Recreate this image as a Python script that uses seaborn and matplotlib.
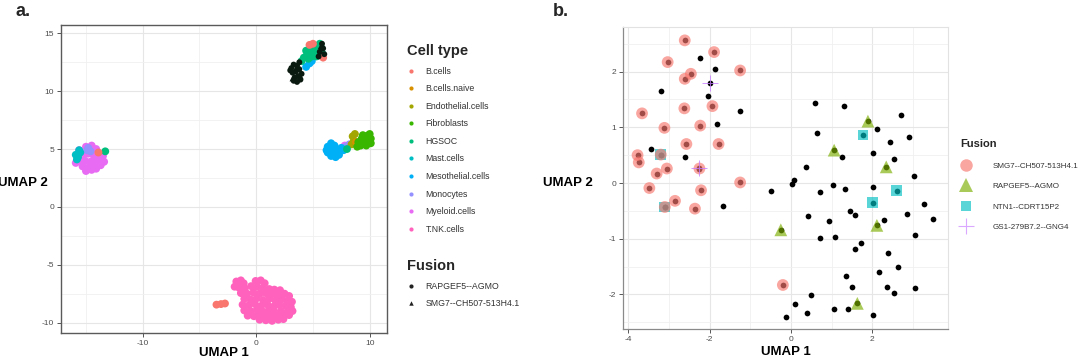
import matplotlib
matplotlib.use("Agg")
import matplotlib.pyplot as plt
import seaborn as sns
import pandas as pd
from matplotlib.lines import Line2D

sns.set_theme(style="white")
plt.rcParams['font.family'] = ['Liberation Sans', 'DejaVu Sans']
plt.rcParams['axes.unicode_minus'] = False

# ---------------- Panel a data ----------------
cell_types = ["B.cells", "B.cells.naive", "Endothelial.cells", "Fibroblasts", "HGSOC",
              "Mast.cells", "Mesothelial.cells", "Monocytes", "Myeloid.cells", "T.NK.cells"]
cell_colors = ["#F8766D", "#D89000", "#A3A500", "#39B600", "#00BF7D",
               "#00BFC4", "#00B0F6", "#9590FF", "#E76BF3", "#FF62BC"]

bcells_x = [-3.5, -3.1, -2.75, 5.0, 4.7, 5.9, -13.9]
bcells_y = [-8.45, -8.4, -8.35, 14.1, 14.0, 12.9, 4.7]
bnaive_x = [8.8]
bnaive_y = [5.6]
endo_x = [8.5, 8.6, 8.4, 8.7]
endo_y = [6.1, 5.7, 5.4, 6.3]
fibro_x = [9.0, 9.3, 9.6, 9.9, 9.5, 9.8, 10.1, 9.2, 9.7, 10.1, 9.9, 8.9, 9.4, 10.0]
fibro_y = [5.6, 5.9, 6.1, 6.2, 5.6, 5.7, 5.9, 5.3, 5.3, 5.5, 6.0, 5.2, 6.2, 6.3]
hgsoc_x = [4.2, 4.5, 4.8, 5.1, 5.4, 5.7, 4.6, 4.9, 5.2, 5.5, 5.8, 5.3, 4.0, 5.0, 5.6, 4.4, -13.3, 8.0]
hgsoc_y = [12.9, 13.2, 13.5, 13.7, 13.9, 13.8, 12.8, 13.0, 13.3, 13.5, 13.3, 13.0, 12.6, 14.0, 14.1, 13.5, 4.8, 5.0]
mast_x = [-15.9, -15.7, -15.5, -15.8, -15.6]
mast_y = [4.5, 4.3, 4.7, 4.1, 4.9]
meso_x = [6.3, 6.6, 6.9, 6.3, 6.6, 6.9, 7.2, 7.5, 6.6, 7.0, 7.3, 6.2, 7.7, 4.7, 4.4, 4.9]
meso_y = [5.2, 5.5, 5.3, 4.7, 4.9, 4.6, 4.9, 5.1, 4.4, 4.3, 4.5, 4.9, 4.9, 12.4, 12.1, 12.6]
mono_x = [-14.9, -14.6, -14.8, 7.9, 8.2]
mono_y = [4.9, 4.8, 5.1, 5.2, 5.4]
myelo_x = [-15.6, -15.0, -14.5, -14.1, -15.3, -14.8, -14.3, -13.8, -15.6, -15.1, -14.6, -14.0,
           -13.4, -15.3, -14.8, -14.3, -13.7, -15.0, -14.5, -13.5, -14.1, -15.9, 7.8]
myelo_y = [4.9, 5.2, 5.3, 5.0, 4.5, 4.6, 4.4, 4.5, 4.0, 4.0, 3.9, 4.0,
           3.9, 3.5, 3.4, 3.6, 3.6, 3.1, 3.2, 4.4, 3.3, 3.8, 5.3]
tnk_x = [-1.75, -1.35, -1.1, -0.05, 0.4, 0.75,
         -1.9, -1.5, -1.0, -0.45, 0.1, 0.6, 1.15, 1.6, 2.1,
         -1.35, -0.8, -0.25, 0.3, 0.85, 1.4, 1.95, 2.5, 2.9,
         -1.05, -0.5, 0.05, 0.6, 1.15, 1.7, 2.25, 2.75, 3.15,
         -1.2, -0.65, -0.1, 0.45, 1.0, 1.55, 2.05, 2.6, 3.05,
         -1.05, -0.5, 0.05, 0.6, 1.1, 1.65, 2.2, 2.75, 3.2,
         -0.75, -0.2, 0.35, 0.9, 1.45, 2.0, 2.5, 2.9,
         0.3, 0.85, 1.4, 1.95, 2.4]
tnk_y = [-6.45, -6.35, -6.6, -6.4, -6.35, -6.6,
         -6.9, -7.0, -7.05, -6.85, -6.9, -7.0, -7.1, -7.15, -7.2,
         -7.45, -7.5, -7.4, -7.5, -7.45, -7.55, -7.6, -7.5, -7.7,
         -7.95, -8.0, -7.9, -8.05, -7.95, -8.1, -8.0, -8.1, -8.2,
         -8.45, -8.5, -8.4, -8.55, -8.45, -8.6, -8.5, -8.55, -8.65,
         -8.95, -9.0, -8.9, -9.05, -8.95, -9.1, -9.0, -9.1, -9.0,
         -9.4, -9.45, -9.35, -9.5, -9.4, -9.5, -9.4, -9.35,
         -9.75, -9.8, -9.85, -9.75, -9.7]

fusion_a_labels = ["RAPGEF5--AGMO", "SMG7--CH507-513H4.1"]
rapA_x = [3.1, 3.3, 3.6, 3.2, 3.5, 3.8, 3.4, 3.7, 3.3, 3.6, 3.9, 3.0, 4.0, 3.8,
          5.6, 5.9, 5.8, 6.0, 5.5]
rapA_y = [12.0, 12.3, 12.2, 11.6, 11.7, 11.9, 11.2, 11.3, 10.9, 10.8, 11.0, 11.8, 11.5, 12.5,
          13.4, 13.7, 14.1, 13.2, 13.0]
smgA_x = [3.5, 3.9, 5.7, 3.2]
smgA_y = [12.0, 11.3, 13.9, 11.1]

# ---------------- Panel b data ----------------
fusion_b_labels = ["SMG7--CH507-513H4.1", "RAPGEF5--AGMO", "NTN1--CDRT15P2", "GS1-279B7.2--GNG4"]
fusion_b_colors = ["#F8766D", "#7CAE00", "#00BFC4", "#C77CFF"]

other_x = [-2.23, -1.86, -3.19, -2.03, -1.25, -1.82, -3.44, -2.61, -1.68, -0.48, 0.03, 0.07, 0.37, 0.60,
           1.30, 2.70, 0.63, 2.12, 2.91, 2.44, 1.25, 2.02, 2.52, 3.01, 0.71, 1.03, 1.33, 2.02, 3.28,
           1.45, 1.58, 0.43, 0.94, 2.28, 2.84, 3.50, 0.71, 1.07, 3.05, 1.73, 1.57, 2.38, 2.64, 1.34,
           2.15, 1.50, 2.36, 2.54, 3.05, 0.50, 0.09, 0.39, 1.06, 1.39, -0.13, 2.02]
other_y = [2.24, 2.04, 1.66, 1.56, 1.29, 1.06, 0.61, 0.47, -0.41, -0.14, -0.01, 0.05, 0.28, 1.44,
           1.38, 1.22, 0.90, 0.97, 0.83, 0.74, 0.47, 0.54, 0.43, 0.13, -0.17, -0.04, -0.11, -0.08, -0.38,
           -0.51, -0.58, -0.59, -0.69, -0.66, -0.56, -0.64, -0.98, -0.96, -0.94, -1.08, -1.18, -1.26, -1.51,
           -1.66, -1.60, -1.87, -1.86, -1.97, -1.88, -2.01, -2.17, -2.34, -2.26, -2.26, -2.40, -2.36]
smg7_x = [-2.61, -1.89, -3.03, -2.46, -2.61, -1.25, -3.66, -2.62, -1.93, -3.11, -2.23, -2.57, -1.78,
          -3.77, -3.74, -3.30, -3.05, -2.25, -3.48, -2.21, -1.25, -2.85, -2.36, -0.20, -3.20, -3.10]
smg7_y = [2.56, 2.35, 2.17, 1.96, 1.87, 2.02, 1.25, 1.34, 1.38, 0.99, 1.03, 0.70, 0.70,
          0.50, 0.37, 0.17, 0.26, 0.26, -0.09, -0.13, 0.01, -0.32, -0.46, -1.83, 0.51, -0.43]
rap_x = [1.89, 1.06, 2.34, 2.11, -0.25, 1.63]
rap_y = [1.11, 0.59, 0.29, -0.76, -0.84, -2.16]
ntn_x = [1.77, 2.60, 2.01, -3.20, -3.10]
ntn_y = [0.86, -0.14, -0.35, 0.51, -0.43]
gs1_x = [-2.00, -2.27]
gs1_y = [1.80, 0.27]

# ---------------- build tables ----------------
groups_a = [bcells_x, bnaive_x, endo_x, fibro_x, hgsoc_x, mast_x, meso_x, mono_x, myelo_x, tnk_x]
groups_ay = [bcells_y, bnaive_y, endo_y, fibro_y, hgsoc_y, mast_y, meso_y, mono_y, myelo_y, tnk_y]
draw_order = [9, 8, 7, 5, 6, 2, 1, 3, 4, 0]
rows = []
for i in draw_order:
    for x, y in zip(groups_a[i], groups_ay[i]):
        rows.append((x, y, cell_types[i]))
df_a = pd.DataFrame(rows, columns=["UMAP1", "UMAP2", "Cell type"])
df_fa = pd.DataFrame(
    [(x, y, fusion_a_labels[0]) for x, y in zip(rapA_x, rapA_y)] +
    [(x, y, fusion_a_labels[1]) for x, y in zip(smgA_x, smgA_y)],
    columns=["UMAP1", "UMAP2", "Fusion"])

df_cells = pd.DataFrame({"UMAP1": other_x + smg7_x + rap_x + ntn_x + gs1_x,
                         "UMAP2": other_y + smg7_y + rap_y + ntn_y + gs1_y})
fb = ([(x, y, fusion_b_labels[2]) for x, y in zip(ntn_x, ntn_y)] +
      [(x, y, fusion_b_labels[1]) for x, y in zip(rap_x, rap_y)] +
      [(x, y, fusion_b_labels[0]) for x, y in zip(smg7_x, smg7_y)])
df_fb = pd.DataFrame(fb, columns=["UMAP1", "UMAP2", "Fusion"])
df_gs = pd.DataFrame({"UMAP1": gs1_x, "UMAP2": gs1_y})

# ---------------- figure ----------------
W, H = 1080, 363
fig = plt.figure(figsize=(10.8, 3.63), dpi=100)
axA = fig.add_axes([61 / W, 1 - 333 / H, (386.7 - 61) / W, (333 - 25) / H])
axB = fig.add_axes([623.3 / W, 1 - 329 / H, (947.7 - 623.3) / W, (329 - 27) / H])

tick_col = "#4d4d4d"
grid_major = "#e6e6e6"
grid_minor = "#f0f0f0"

# Panel a
sns.scatterplot(data=df_a, x="UMAP1", y="UMAP2", hue="Cell type", hue_order=cell_types,
                palette=cell_colors, s=32, linewidth=0, legend=False, ax=axA, zorder=3)
sns.scatterplot(data=df_fa, x="UMAP1", y="UMAP2", style="Fusion", style_order=fusion_a_labels,
                markers={fusion_a_labels[0]: "o", fusion_a_labels[1]: "^"}, color="#0a1a10",
                s=18, linewidth=0, legend=False, ax=axA, zorder=4)
axA.set_xlim(-17.2, 11.5)
axA.set_ylim(-10.9, 15.72)
axA.set_xticks([-10, 0, 10])
axA.set_xticks([-15, -5, 5], minor=True)
axA.set_yticks([-10, -5, 0, 5, 10, 15])
axA.set_yticks([-7.5, -2.5, 2.5, 7.5, 12.5], minor=True)

# Panel b
sns.scatterplot(data=df_cells, x="UMAP1", y="UMAP2", color="black", s=17, linewidth=0,
                legend=False, ax=axB, zorder=3)
sns.scatterplot(data=df_fb, x="UMAP1", y="UMAP2", hue="Fusion", hue_order=fusion_b_labels[:3],
                palette=fusion_b_colors[:3], style="Fusion", style_order=fusion_b_labels[:3],
                markers={fusion_b_labels[0]: "o", fusion_b_labels[1]: "^", fusion_b_labels[2]: "s"},
                size="Fusion", sizes={fusion_b_labels[0]: 72, fusion_b_labels[1]: 85,
                                      fusion_b_labels[2]: 60},
                alpha=0.65, linewidth=0, legend=False, ax=axB, zorder=4)
sns.scatterplot(data=df_gs, x="UMAP1", y="UMAP2", color=fusion_b_colors[3], marker="+",
                s=140, linewidth=0.7, alpha=0.8, legend=False, ax=axB, zorder=5)
axB.set_xlim(-4.12, 3.85)
axB.set_ylim(-2.62, 2.80)
axB.set_xticks([-4, -2, 0, 2])
axB.set_xticks([-3, -1, 1, 3], minor=True)
axB.set_yticks([-2, -1, 0, 1, 2])
axB.set_yticks([-2.5, -1.5, -0.5, 0.5, 1.5, 2.5], minor=True)

for ax in (axA, axB):
    ax.set_facecolor("white")
    ax.set_axisbelow(True)
    ax.grid(which="major", color=grid_major, lw=0.8, zorder=0)
    ax.grid(which="minor", color=grid_minor, lw=0.6, zorder=0)
    ax.tick_params(which="major", length=3, width=0.7, color="#555555", labelsize=6,
                   labelcolor=tick_col, pad=2, bottom=True, left=True)
    ax.tick_params(which="minor", length=0)
    ax.set_xlabel("UMAP 1", fontweight="bold", fontsize=9.5, color="black")
    ax.set_ylabel("UMAP 2", fontweight="bold", fontsize=9.5, color="black",
                  rotation=0, ha="right", va="center")
    ax.xaxis.label.set_va("center")

for s in axA.spines.values():
    s.set_color("#5a5a5a")
    s.set_linewidth(1.0)
for k, s in axB.spines.items():
    if k in ("left", "bottom"):
        s.set_color("#8a8a8a")
        s.set_linewidth(0.9)
    else:
        s.set_color("#e2e2e2")
        s.set_linewidth(0.8)

axA.xaxis.set_label_coords(0.5, (333 - 353) / 308)
axA.yaxis.set_label_coords(-0.04, (333 - 183) / 308)
axB.xaxis.set_label_coords(0.5, (329 - 352) / 302)
axB.yaxis.set_label_coords(-0.095, (329 - 183) / 302)

fig.text(15 / W, 1 - 12 / H, "a.", fontweight="bold", fontsize=13, va="center", ha="left")
fig.text(553 / W, 1 - 12 / H, "b.", fontweight="bold", fontsize=13, va="center", ha="left")

# Legends panel a
h_ct = [Line2D([], [], ls="", marker="o", ms=3, mew=0, color=c) for c in cell_colors]
legA1 = axA.legend(h_ct, cell_types, title="Cell type", loc="upper left",
                   bbox_to_anchor=(407 / W, 1 - 44 / H), bbox_transform=fig.transFigure,
                   frameon=False, fontsize=6.3, title_fontproperties={"weight": "bold", "size": 10.5},
                   alignment="left", handlelength=0.8, handletextpad=1.3, labelspacing=0.98,
                   borderpad=0, borderaxespad=0)
axA.add_artist(legA1)
h_fa = [Line2D([], [], ls="", marker="o", ms=3, mew=0, color="#222222"),
        Line2D([], [], ls="", marker="^", ms=3.2, mew=0, color="#222222")]
legA2 = axA.legend(h_fa, fusion_a_labels, title="Fusion", loc="upper left",
                   bbox_to_anchor=(407 / W, 1 - 259 / H), bbox_transform=fig.transFigure,
                   frameon=False, fontsize=6.3, title_fontproperties={"weight": "bold", "size": 10.5},
                   alignment="left", handlelength=0.8, handletextpad=1.3, labelspacing=0.98,
                   borderpad=0, borderaxespad=0)

# Legend panel b
mk = ["o", "^", "s", "+"]
ms = [9, 9.5, 7.6, 11]
h_fb = [Line2D([], [], ls="", marker=m, ms=z, mew=(0.8 if m == "+" else 0), color=c, alpha=0.65)
        for m, z, c in zip(mk, ms, fusion_b_colors)]
legB = axB.legend(h_fb, fusion_b_labels, title="Fusion", loc="upper left",
                  bbox_to_anchor=(960 / W, 1 - 139 / H), bbox_transform=fig.transFigure,
                  frameon=False, fontsize=5.8, title_fontproperties={"weight": "bold", "size": 8},
                  alignment="left", handlelength=1.6, handletextpad=2.4, labelspacing=1.6,
                  borderpad=0, borderaxespad=0)
for t in list(legA1.get_texts()) + list(legA2.get_texts()) + list(legB.get_texts()):
    t.set_color("#333333")

fig.savefig("out.png", dpi=100, facecolor="white")
